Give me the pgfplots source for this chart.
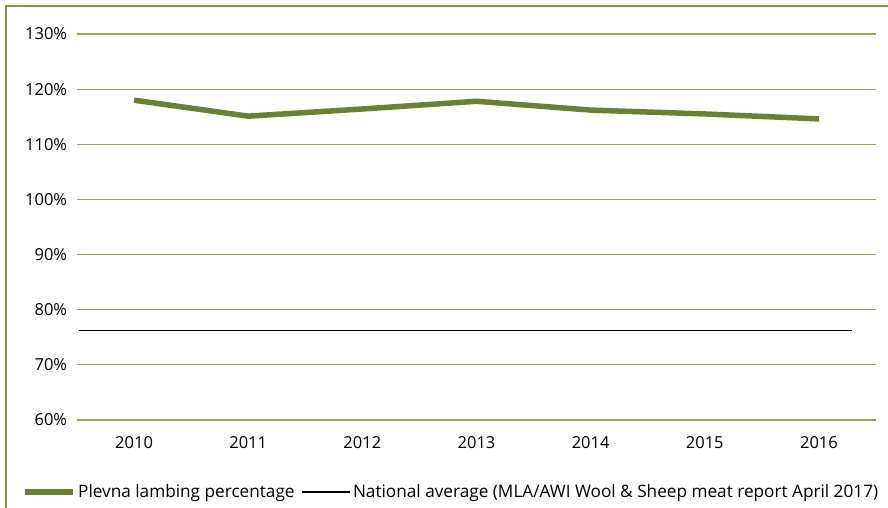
\documentclass[border=0pt]{standalone}
\usepackage{pgfplots}
\pgfplotsset{compat=1.18}
\usepackage{fontspec}
\setmainfont{Open Sans}
\definecolor{gridg}{HTML}{93A565}
\definecolor{lineg}{HTML}{6A8135}
\definecolor{frameg}{HTML}{7F9645}
\begin{document}
\fontsize{17.2bp}{20bp}\selectfont
\begin{tikzpicture}[x=1bp,y=1bp]
\useasboundingbox (-77,-88) rectangle (811,420);
\draw[frameg, line width=2bp] (-71,-90) -- (-71,414) -- (813,414);
\begin{axis}[
  at={(0,0)}, anchor=south west,
  scale only axis, width=799bp, height=386bp,
  xmin=-0.5, xmax=6.5, ymin=60, ymax=130,
  axis line style={draw=none},
  tick style={draw=none},
  xtick={0,...,6},
  xticklabels={2010,2011,2012,2013,2014,2015,2016},
  ytick={60,70,...,130},
  yticklabel={\pgfmathprintnumber{\tick}\%},
  /pgf/number format/assume math mode=true,
  ymajorgrids, grid style={gridg, line width=1.1bp},
  yticklabel style={xshift=-4bp},
  xticklabel style={yshift=-11bp},
  ticklabel style={font=\fontsize{16.5bp}{19bp}\selectfont},
  legend style={at={(-0.068,-0.1865)}, anchor=west, draw=none, fill=none,
    inner sep=0pt, outer sep=0pt,
    font=\fontsize{17.2bp}{20bp}\selectfont,
    nodes={inner sep=2bp},
    /tikz/every even column/.append style={column sep=5bp}},
  legend columns=2,
  legend image code/.code={\draw[#1] (0bp,0bp) -- (48bp,0bp);},
  clip=false,
]
\addplot[lineg, line width=5.5bp, line join=round] coordinates {
 (0,118.0) (1,115.1) (2,116.4) (3,117.8) (4,116.2) (5,115.5) (6,114.6)};
\addlegendentry{Plevna lambing percentage}
\addplot[black, line width=1.4bp] coordinates {(-0.48,76.2) (6.29,76.2)};
\addlegendentry{National average (MLA/AWI Wool \& Sheep meat report April 2017)}
\end{axis}
\end{tikzpicture}
\end{document}
